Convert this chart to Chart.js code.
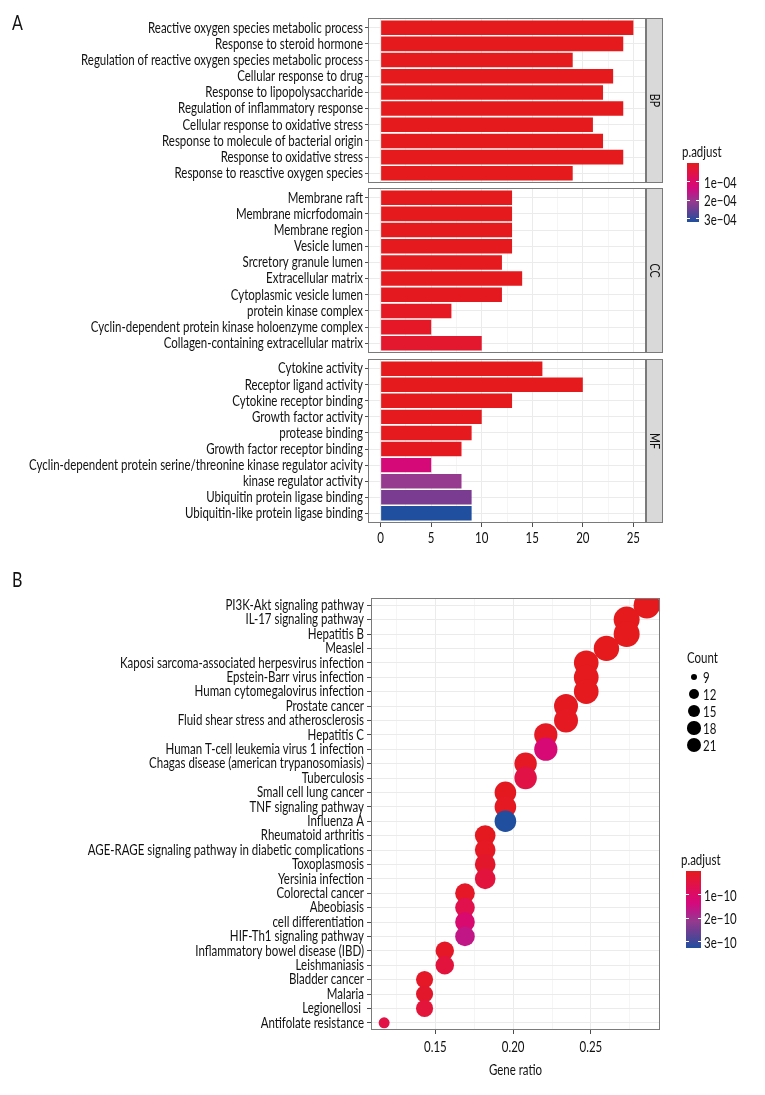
<!DOCTYPE html>
<html>
<head>
<meta charset="utf-8">
<script src="https://cdn.jsdelivr.net/npm/chart.js@4.4.1/dist/chart.umd.min.js"></script>
<style>
  body { margin: 0; background: #fff; }
  #wrap { position: relative; width: 765px; height: 1095px; font-family: Lato, "Open Sans", sans-serif; color: #111; }
  #wrap canvas { position: absolute; left: 0; }
  .abs { position: absolute; white-space: nowrap; line-height: 1; transform-origin: left center; }
</style>
</head>
<body>
<div id="wrap">
  <canvas id="bp" width="700" height="173" style="top:14px"></canvas>
  <canvas id="cc" width="700" height="173" style="top:184px"></canvas>
  <canvas id="mf" width="700" height="202" style="top:355px"></canvas>
  <canvas id="kegg" width="765" height="505" style="top:590px"></canvas>
</div>
<script>
// GO enrichment (panel A)
const bpTerms = ["Reactive oxygen species metabolic process", "Response to steroid hormone",
  "Regulation of reactive oxygen species metabolic process", "Cellular response to drug",
  "Response to lipopolysaccharide", "Regulation of inflammatory response",
  "Cellular response to oxidative stress", "Response to molecule of bacterial origin",
  "Response to oxidative stress", "Response to reasctive oxygen species"];
const bpCounts = [25, 24, 19, 23, 22, 24, 21, 22, 24, 19];
const bpPadj = [2e-12, 5e-11, 1e-9, 3e-11, 4e-10, 1e-10, 2e-9, 6e-10, 8e-10, 3e-9];

const ccTerms = ["Membrane raft", "Membrane micrfodomain", "Membrane region", "Vesicle lumen",
  "Srcretory granule lumen", "Extracellular matrix", "Cytoplasmic vesicle lumen",
  "protein kinase complex", "Cyclin-dependent protein kinase holoenzyme complex",
  "Collagen-containing extracellular matrix"];
const ccCounts = [13, 13, 13, 13, 12, 14, 12, 7, 5, 10];
const ccPadj = [1e-6, 1.2e-6, 1.5e-6, 2e-6, 3e-6, 2.5e-6, 4e-6, 9e-6, 1.3e-5, 2.2e-5];

const mfTerms = ["Cytokine activity", "Receptor ligand activity", "Cytokine receptor binding",
  "Growth factor activity", "protease binding", "Growth factor receptor binding",
  "Cyclin-dependent protein serine/threonine kinase regulator acivity", "kinase regulator activity",
  "Ubiquitin protein ligase binding", "Ubiquitin-like protein ligase binding"];
const mfCounts = [16, 20, 13, 10, 9, 8, 5, 8, 9, 9];
const mfPadj = [1e-9, 1e-9, 1e-8, 2e-6, 3e-6, 5e-6, 1.27e-4, 2.06e-4, 2.35e-4, 3.17e-4];

const countTicksA = [0, 5, 10, 15, 20, 25];
const padjTicksA = [1e-4, 2e-4, 3e-4];

// KEGG enrichment (panel B)
const pathways = ["PI3K-Akt signaling pathway", "IL-17 signaling pathway", "Hepatitis B", "Measlel",
  "Kaposi sarcoma-associated herpesvirus infection", "Epstein-Barr virus infection",
  "Human cytomegalovirus infection", "Prostate cancer", "Fluid shear stress and atherosclerosis",
  "Hepatitis C", "Human T-cell leukemia virus 1 infection", "Chagas disease (american trypanosomiasis)",
  "Tuberculosis", "Small cell lung cancer", "TNF signaling pathway", "Influenza A",
  "Rheumatoid arthritis", "AGE-RAGE signaling pathway in diabetic complications", "Toxoplasmosis",
  "Yersinia infection", "Colorectal cancer", "Abeobiasis", "cell differentiation",
  "HIF-Th1 signaling pathway", "Inflammatory bowel disease (IBD)", "Leishmaniasis",
  "Bladder cancer", "Malaria", "Legionellosi ", "Antifolate resistance"];
const geneRatio = [0.286, 0.273, 0.273, 0.260, 0.247, 0.247, 0.247, 0.234, 0.234, 0.221,
  0.221, 0.208, 0.208, 0.195, 0.195, 0.195, 0.182, 0.182, 0.182, 0.182,
  0.169, 0.169, 0.169, 0.169, 0.156, 0.156, 0.143, 0.143, 0.143, 0.117];
const pathCounts = [22, 21, 21, 20, 19, 19, 19, 18, 18, 17, 17, 16, 16, 15, 15, 15, 14, 14, 14, 14,
  13, 13, 13, 13, 12, 12, 11, 11, 11, 9];
const pathPadj = [1e-13, 5e-13, 8e-13, 1e-12, 2e-12, 3e-12, 4e-12, 5e-12, 6e-12, 1e-11,
  1.25e-10, 1e-11, 5.5e-11, 5e-12, 8e-12, 3.27e-10, 5e-12, 1e-11, 2e-11, 4.5e-11,
  1.5e-11, 6.5e-11, 1.15e-10, 1.6e-10, 1.5e-11, 4.5e-11, 1.5e-11, 2e-11, 4e-11, 5.5e-11];
const ratioTicks = [0.15, 0.20, 0.25];
const countTicksB = [9, 12, 15, 18, 21];
const padjTicksB = [1e-10, 2e-10, 3e-10];

// red -> blue palette as printed
const stops = [[0, "#E41A1C"], [0.12, "#E3153A"], [0.3, "#DC0B66"], [0.42, "#D4097C"],
  [0.55, "#B0228C"], [0.65, "#953A8E"], [0.75, "#773C91"], [0.87, "#4F4596"], [1, "#1F4F9E"]];

function hex2rgb(h) {
  return [1, 3, 5].map(i => parseInt(h.substr(i, 2), 16));
}
function cmap(t) {
  t = Math.max(0, Math.min(1, t));
  for (let i = 1; i < stops.length; i++) {
    if (t <= stops[i][0]) {
      const [t0, c0] = stops[i - 1], [t1, c1] = stops[i];
      const f = (t - t0) / (t1 - t0), a = hex2rgb(c0), b = hex2rgb(c1);
      return "rgb(" + a.map((v, k) => Math.round(v + (b[k] - v) * f)).join(",") + ")";
    }
  }
  return stops[stops.length - 1][1];
}

const allA = bpPadj.concat(ccPadj, mfPadj);
const loA = Math.min(...allA), hiA = Math.max(...allA);
const loB = Math.min(...pathPadj), hiB = Math.max(...pathPadj);

const fam = "Lato, 'Open Sans', sans-serif";
const fsize = 15;
const ink = "#111";

// the original uses a condensed face; squeeze a normal one to the same width
const probe = document.createElement("canvas").getContext("2d");
probe.font = fsize + "px " + fam;
const squeeze = 215 / probe.measureText(bpTerms[0]).width;

function put(ctx, s, x, y, align) {
  ctx.save();
  ctx.translate(x, y);
  ctx.scale(squeeze, 1);
  ctx.textAlign = align;
  ctx.fillText(s, 0, 0);
  ctx.restore();
}

const frame = {
  id: "frame",
  afterDraw(chart, args, opts) {
    const { ctx, chartArea: a } = chart;
    ctx.save();
    ctx.strokeStyle = "#7a7a7a";
    ctx.lineWidth = 1;
    ctx.strokeRect(a.left + 0.5, a.top + 0.5, a.right - a.left - 1, a.bottom - a.top - 1);
    if (opts.text) {
      ctx.fillStyle = "#d9d9d9";
      ctx.fillRect(a.right, a.top, 17, a.bottom - a.top);
      ctx.strokeRect(a.right + 0.5, a.top + 0.5, 16, a.bottom - a.top - 1);
      ctx.translate(a.right + 8.5, (a.top + a.bottom) / 2);
      ctx.rotate(Math.PI / 2);
      ctx.fillStyle = ink;
      ctx.font = "14px " + fam;
      ctx.textBaseline = "middle";
      put(ctx, opts.text, 0, 0, "center");
    }
    ctx.restore();
  }
};

const axisText = {
  id: "axisText",
  afterDraw(chart, args, o) {
    const { ctx, chartArea: a, scales } = chart;
    ctx.save();
    ctx.fillStyle = ink;
    ctx.font = fsize + "px " + fam;
    ctx.textBaseline = "middle";
    if (o.yLabels) {
      scales.y.ticks.forEach((t, i) => put(ctx, o.yLabels[i], a.left - o.yGap, scales.y.getPixelForTick(i), "right"));
    }
    if (o.xFmt) {
      scales.x.ticks.forEach((t, i) => {
        const s = o.xFmt(t.value);
        if (s) put(ctx, s, scales.x.getPixelForTick(i), a.bottom + o.xGap, "center");
      });
    }
    if (o.xTitle) put(ctx, o.xTitle, (a.left + a.right) / 2, a.bottom + o.titleGap, "center");
    ctx.restore();
  }
};

const maxA = Math.max(...bpCounts, ...ccCounts, ...mfCounts);
const stepA = countTicksA[1] - countTicksA[0];
const isMajorA = v => countTicksA.some(t => Math.abs(t - v) < 1e-9);

function facet(id, terms, counts, padj, strip, showX) {
  new Chart(document.getElementById(id), {
    type: "bar",
    data: {
      datasets: [{
        data: terms.map((t, i) => ({ x: counts[i], y: i })),
        backgroundColor: padj.map(p => cmap((p - loA) / (hiA - loA))),
        borderWidth: 0,
        categoryPercentage: 0.9,
        barPercentage: 1
      }]
    },
    options: {
      indexAxis: "y",
      responsive: false,
      animation: false,
      layout: { autoPadding: false, padding: { top: 4, bottom: 4, left: 0, right: 54 } },
      plugins: {
        legend: { display: false }, tooltip: { enabled: false },
        frame: { text: strip },
        axisText: { yLabels: terms, yGap: 5, xFmt: showX ? (v => isMajorA(v) ? String(v) : "") : null, xGap: 15 }
      },
      scales: {
        x: {
          type: "linear",
          min: -0.05 * maxA,
          max: 1.05 * maxA,
          afterBuildTicks: s => {
            const t = [];
            for (let v = countTicksA[0]; v <= countTicksA[countTicksA.length - 1] + 1e-9; v += stepA / 2) t.push({ value: v });
            s.ticks = t;
          },
          afterFit: s => { s.height = showX ? 30 : 0; },
          border: { display: false },
          grid: {
            color: c => (c.tick && isMajorA(c.tick.value)) ? "#EBEBEB" : "#F5F5F5",
            tickColor: c => (showX && c.tick && isMajorA(c.tick.value)) ? "#4d4d4d" : "rgba(0,0,0,0)",
            drawTicks: showX,
            tickLength: 4
          },
          ticks: { display: false }
        },
        y: {
          type: "linear",
          reverse: true,
          offset: false,
          min: -0.6,
          max: terms.length - 0.4,
          afterBuildTicks: s => { s.ticks = terms.map((t, i) => ({ value: i })); },
          afterFit: s => { s.width = 368; },
          border: { display: false },
          grid: { offset: false, color: "#EBEBEB", tickColor: "#4d4d4d", tickLength: 3 },
          ticks: { display: false }
        }
      }
    },
    plugins: [frame, axisText]
  });
}

facet("bp", bpTerms, bpCounts, bpPadj, "BP", false);
facet("cc", ccTerms, ccCounts, ccPadj, "CC", false);
facet("mf", mfTerms, mfCounts, mfPadj, "MF", true);

// panel B dot plot
const cMin = Math.min(...pathCounts), cMax = Math.max(...pathCounts);
const radius = c => 5.5 + 7.8 * Math.sqrt((c - cMin) / (cMax - cMin));
const gMin = Math.min(...geneRatio), gMax = Math.max(...geneRatio);
const stepB = ratioTicks[1] - ratioTicks[0];
const isMajorB = v => ratioTicks.some(t => Math.abs(t - v) < 1e-9);

new Chart(document.getElementById("kegg"), {
  type: "scatter",
  data: {
    datasets: [{
      data: pathways.map((p, i) => ({ x: geneRatio[i], y: p })),
      pointRadius: pathCounts.map(radius),
      pointHoverRadius: pathCounts.map(radius),
      pointBackgroundColor: pathPadj.map(p => cmap((p - loB) / (hiB - loB))),
      pointBorderWidth: 0,
      clip: 0
    }]
  },
  options: {
    responsive: false,
    animation: false,
    layout: { autoPadding: false, padding: { top: 8, bottom: 15, left: 0, right: 105 } },
    plugins: {
      legend: { display: false }, tooltip: { enabled: false }, frame: {},
      axisText: { yLabels: pathways, yGap: 7, xFmt: v => isMajorB(v) ? v.toFixed(2) : "", xGap: 17, xTitle: "Gene ratio", titleGap: 40 }
    },
    scales: {
      x: {
        type: "linear",
        min: gMin - 0.05 * (gMax - gMin),
        max: gMax + 0.05 * (gMax - gMin),
        afterBuildTicks: s => {
          const t = [];
          for (let v = ratioTicks[0] - stepB / 2; v <= ratioTicks[ratioTicks.length - 1] + stepB / 2 + 1e-9; v += stepB / 2) t.push({ value: v });
          s.ticks = t;
        },
        afterFit: s => { s.height = 50; },
        border: { display: false },
        grid: {
          color: c => (c.tick && isMajorB(c.tick.value)) ? "#EBEBEB" : "#F5F5F5",
          tickColor: c => (c.tick && isMajorB(c.tick.value)) ? "#4d4d4d" : "rgba(0,0,0,0)",
          tickLength: 4
        },
        ticks: { display: false }
      },
      y: {
        type: "category",
        labels: pathways,
        offset: true,
        afterFit: s => { s.width = 371; },
        border: { display: false },
        grid: { offset: false, color: "#EBEBEB", tickColor: "#4d4d4d", tickLength: 4 },
        ticks: { display: false }
      }
    }
  },
  plugins: [frame, axisText]
});

// legends and panel letters (html)
const wrap = document.getElementById("wrap");
function add(html, style, mid) {
  const d = document.createElement("div");
  d.className = "abs";
  d.style.cssText = style;
  if (mid) d.style.transform = "translateY(-50%) scaleX(" + squeeze + ")";
  d.innerHTML = html;
  wrap.appendChild(d);
  return d;
}
add("A", "left:12px;top:21px;font-size:21px", true);
add("B", "left:12px;top:578px;font-size:21px", true);

const grad = "linear-gradient(to bottom," + stops.map(s => s[1] + " " + (s[0] * 100) + "%").join(",") + ")";
const expLabel = v => v.toExponential(0).replace(/e-(\d)$/, "e\u22120$1").replace("e-", "e\u2212");

function colorbar(x, y, w, h, lo, hi, ticks, labelX) {
  add("p.adjust", "left:" + (x - 5) + "px;top:" + (y - 12) + "px;font-size:15px", true);
  add("", "left:" + x + "px;top:" + y + "px;width:" + w + "px;height:" + h + "px;background:" + grad);
  ticks.forEach(v => {
    const ty = y + (v - lo) / (hi - lo) * h;
    add("", "left:" + x + "px;top:" + (ty - 0.5) + "px;width:3px;height:1px;background:#fff");
    add("", "left:" + (x + w - 3) + "px;top:" + (ty - 0.5) + "px;width:3px;height:1px;background:#fff");
    add(expLabel(v), "left:" + labelX + "px;top:" + ty + "px;font-size:15px", true);
  });
}
colorbar(687, 163, 12, 59, loA, hiA, padjTicksA, 704);
colorbar(686, 871, 15, 77, loB, hiB, padjTicksB, 704);

add("Count", "left:687px;top:657px;font-size:15px", true);
countTicksB.forEach((c, i) => {
  const cy = 677 + i * 17, r = 0.55 * radius(c);
  add("", "left:" + (694 - r) + "px;top:" + (cy - r) + "px;width:" + (2 * r) + "px;height:" + (2 * r) + "px;border-radius:50%;background:#000");
  add(String(c), "left:703px;top:" + cy + "px;font-size:15px", true);
});
</script>
</body>
</html>
